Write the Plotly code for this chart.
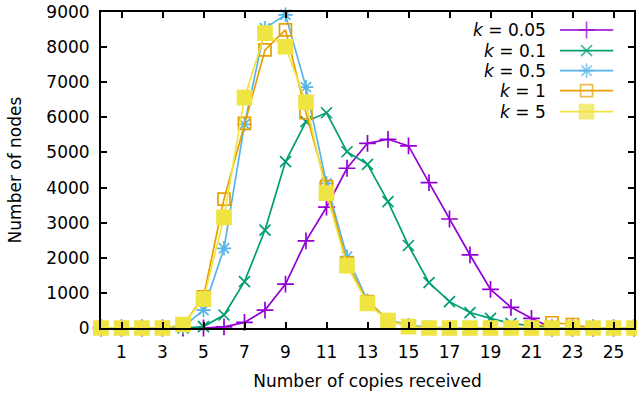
import plotly.graph_objects as go

# ---- data ----
x_copies = list(range(0, 27))
k005 = [0, 0, 0, 0, 0, 0, 30, 160, 510, 1250, 2480, 3440, 4550, 5260, 5375, 5185, 4140, 3105, 2080, 1100, 590, 275, 0, 0, 0, 0, 0]
k01  = [0, 0, 0, 0, 0, 40, 370, 1320, 2790, 4740, 5880, 6130, 5020, 4660, 3600, 2350, 1290, 750, 440, 275, 130, 60, 0, 0, 0, 0, 0]
k05  = [0, 0, 0, 0, 30, 510, 2270, 5800, 8540, 8920, 6860, 4120, 2030, 780, 230, 80, 20, 0, 0, 0, 0, 0, 0, 0, 0, 0, 0]
k1   = [0, 0, 0, 0, 80, 890, 3670, 5830, 7920, 8490, 6130, 4025, 1850, 750, 230, 50, 0, 0, 0, 0, 0, 0, 150, 100, 0, 0, 0]
k5   = [0, 0, 0, 0, 100, 820, 3150, 6560, 8400, 8010, 6430, 3840, 1775, 700, 210, 40, 0, 0, 0, 0, 0, 0, 0, 0, 0, 0, 0]
labels = ["<i>k</i> = 0.05", "<i>k</i> = 0.1", "<i>k</i> = 0.5", "<i>k</i> = 1", "<i>k</i> = 5"]
x_ticks = list(range(1, 26, 2))
y_ticks = list(range(0, 9001, 1000))

series = [k005, k01, k05, k1, k5]
colors = ["#9400d3", "#009e73", "#56b4e9", "#e69f00", "#f0e442"]
symbols = ["cross-thin", "x-thin", "asterisk", "square-open", "square"]
msizes = [12, 11, 12, 12, 14]
FONT = "DejaVu Sans"

fig = go.Figure()
for ys, c, s, ms in zip(series, colors, symbols, msizes):
    fig.add_trace(go.Scatter(
        x=x_copies, y=ys, mode="lines+markers",
        line=dict(color=c, width=1.7),
        marker=dict(symbol=s, size=ms, color=c, line=dict(color=c, width=1.7)),
        cliponaxis=False, showlegend=False, hoverinfo="skip"))

# custom gnuplot-style key (text left, sample right) on an overlay axis
row_y = [0.943, 0.8775, 0.8142, 0.751, 0.6845]
for lab, c, s, ms, ry in zip(labels, colors, symbols, msizes, row_y):
    fig.add_trace(go.Scatter(
        x=[0.861, 0.911, 0.961], y=[ry, ry, ry], xaxis="x2", yaxis="y2",
        mode="lines+markers", line=dict(color=c, width=1.7),
        marker=dict(symbol=s, size=[0, ms, 0], color=c, line=dict(color=c, width=1.7)),
        showlegend=False, hoverinfo="skip", cliponaxis=False))
    fig.add_annotation(x=0.8386, y=ry, xref="x2", yref="y2", text=lab,
                       showarrow=False, xanchor="right", yanchor="middle",
                       font=dict(family=FONT, size=17, color="black"))

axis_common = dict(showline=True, linecolor="black", linewidth=2, mirror="ticks",
                   ticks="inside", ticklen=6, tickwidth=1.5, tickcolor="black",
                   showgrid=False, zeroline=False, automargin=False,
                   tickfont=dict(family=FONT, size=17, color="black"))

fig.update_layout(
    width=637, height=393,
    margin=dict(l=101, r=3, t=12, b=65),
    paper_bgcolor="white", plot_bgcolor="white",
    xaxis=dict(range=[0, 26], tickvals=x_ticks, ticklabelstandoff=8,
               title=dict(text="Number of copies received",
                          font=dict(family=FONT, size=17, color="black"), standoff=14), **axis_common),
    yaxis=dict(range=[0, 9000], tickvals=y_ticks, ticklabelstandoff=6,
               title=dict(text="Number of nodes",
                          font=dict(family=FONT, size=17, color="black"), standoff=20), **axis_common),
    xaxis2=dict(overlaying="x", range=[0, 1], visible=False, anchor="y2"),
    yaxis2=dict(overlaying="y", range=[0, 1], visible=False, anchor="x2"),
    showlegend=False,
)
fig.write_html("out.html", config={"displayModeBar": False},
               post_script="document.body.style.margin='0';document.body.style.overflow='hidden';")
